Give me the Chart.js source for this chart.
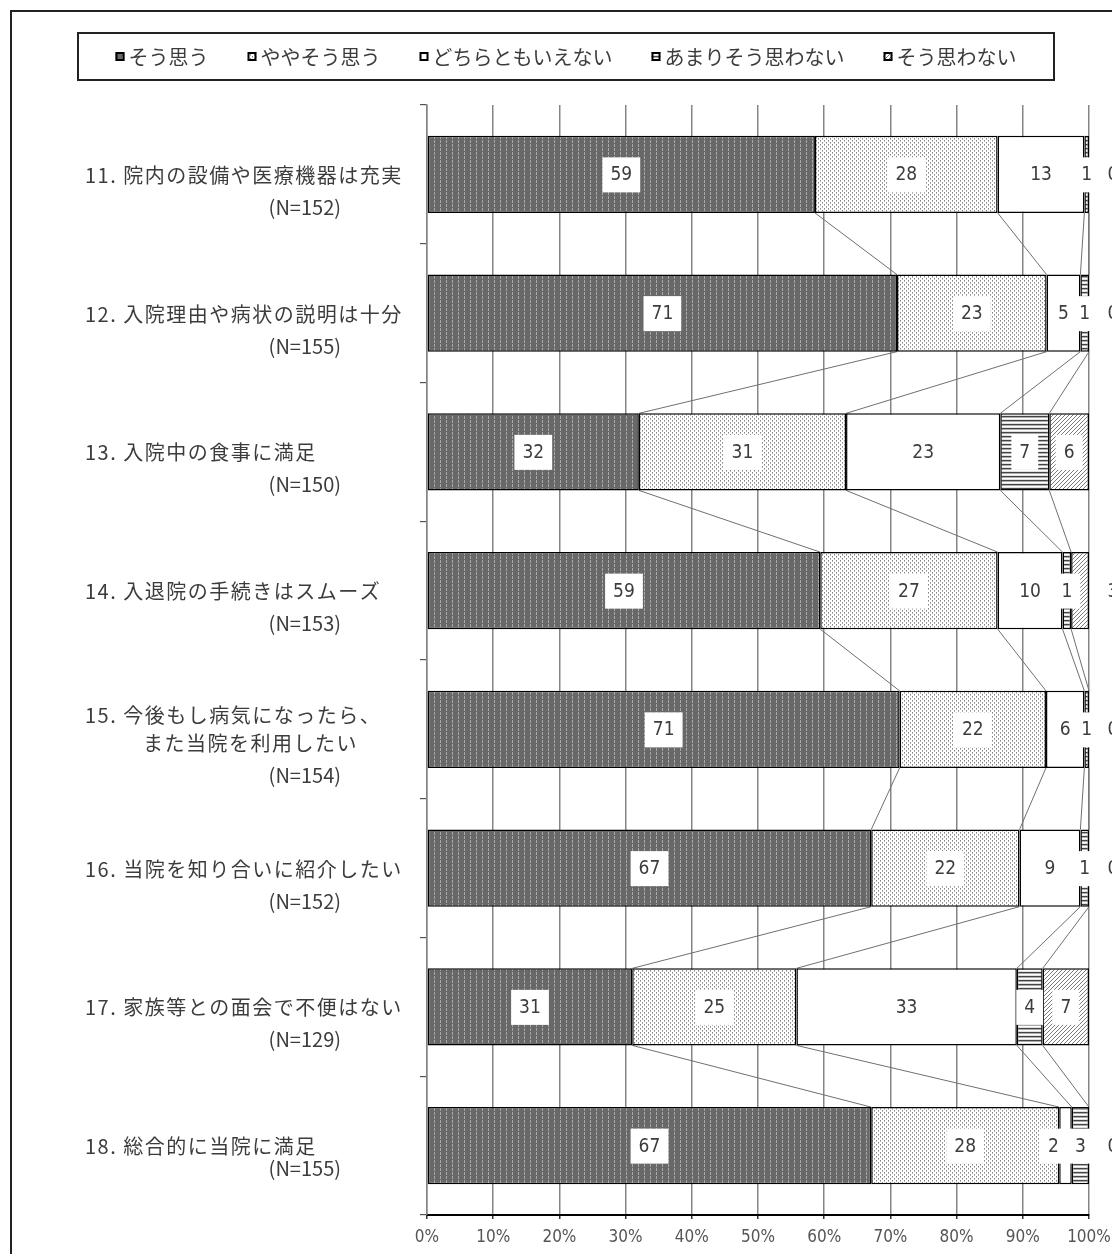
<!DOCTYPE html>
<html lang="ja">
<head>
<meta charset="utf-8">
<title>入院患者アンケート</title>
<script src="https://cdn.jsdelivr.net/npm/chart.js@4.4.1/dist/chart.umd.min.js"></script>
<style>
  html, body { margin: 0; padding: 0; background: #fff; }
  canvas { display: block; }
</style>
</head>
<body>
<canvas id="chart" width="1112" height="1254"></canvas>
<script>
// 設問ラベル（最後の要素は回答数）
const categories = [
  ['11. 院内の設備や医療機器は充実', '(N=152)'],
  ['12. 入院理由や病状の説明は十分', '(N=155)'],
  ['13. 入院中の食事に満足', '(N=150)'],
  ['14. 入退院の手続きはスムーズ', '(N=153)'],
  ['15. 今後もし病気になったら、', 'また当院を利用したい', '(N=154)'],
  ['16. 当院を知り合いに紹介したい', '(N=152)'],
  ['17. 家族等との面会で不便はない', '(N=129)'],
  ['18. 総合的に当院に満足', '(N=155)'],
];
const seriesNames = ['そう思う', 'ややそう思う', 'どちらともいえない', 'あまりそう思わない', 'そう思わない'];

// 割合（%）
const souOmou       = [58.6, 71.0, 32.0, 59.4, 71.4, 67.1, 31.0, 67.1];
const yayaSouOmou   = [27.6, 22.6, 31.3, 26.8, 22.1, 22.4, 24.8, 28.4];
const dochiraTomo   = [13.1,  5.1, 23.3,  9.8,  5.8,  9.2, 33.3,  1.9];
const amariOmowanai = [ 0.7,  1.3,  7.4,  1.3,  0.7,  1.3,  3.9,  2.6];
const souOmowanai   = [ 0.0,  0.0,  6.0,  2.7,  0.0,  0.0,  7.0,  0.0];

const xTickLabels = ['0%', '10%', '20%', '30%', '40%', '50%', '60%', '70%', '80%', '90%', '100%'];

const jpFont = "'Noto Sans CJK JP', sans-serif";
const numFont = "'Liberation Sans Narrow', 'DejaVu Sans Condensed', 'Noto Sans CJK JP', sans-serif";
const textColor = '#3c3c3c';

function makePattern(w, h, paint) {
  const c = document.createElement('canvas');
  c.width = w; c.height = h;
  const g = c.getContext('2d');
  paint(g);
  return document.getElementById('chart').getContext('2d').createPattern(c, 'repeat');
}

const fills = [
  makePattern(6, 4, (g) => {
    g.fillStyle = '#686868'; g.fillRect(0, 0, 6, 4);
    g.fillStyle = '#a8a8a8'; g.fillRect(2, 0, 1, 3);
  }),
  makePattern(4, 4, (g) => {
    g.fillStyle = '#fff'; g.fillRect(0, 0, 4, 4);
    g.fillStyle = '#858585'; g.fillRect(0, 0, 1, 1); g.fillRect(2, 2, 1, 1);
    g.fillStyle = '#b8b8b8'; g.fillRect(0, 1, 1, 1); g.fillRect(2, 3, 1, 1);
  }),
  '#ffffff',
  makePattern(4, 4, (g) => {
    g.fillStyle = '#fff'; g.fillRect(0, 0, 4, 4);
    g.fillStyle = '#444'; g.fillRect(0, 0, 4, 1);
    g.fillStyle = '#aaa'; g.fillRect(0, 1, 4, 1);
    g.fillStyle = '#e0e0e0'; g.fillRect(0, 3, 4, 1);
  }),
  makePattern(4, 4, (g) => {
    g.fillStyle = '#fff'; g.fillRect(0, 0, 4, 4);
    g.fillStyle = '#7a7a7a';
    for (let i = 0; i < 4; i++) g.fillRect(3 - i, i, 1, 1);
  }),
];

const seriesData = [souOmou, yayaSouOmou, dochiraTomo, amariOmowanai, souOmowanai];

// 枠と凡例
const frame = {
  id: 'frame',
  beforeDraw(chart) {
    const ctx = chart.ctx;
    ctx.save();
    ctx.fillStyle = '#fff';
    ctx.fillRect(0, 0, chart.width, chart.height);
    ctx.strokeStyle = '#222';
    ctx.lineWidth = 2;
    ctx.beginPath();
    ctx.moveTo(11, chart.height + 5); ctx.lineTo(11, 11); ctx.lineTo(chart.width + 5, 11);
    ctx.stroke();
    ctx.strokeRect(78, 33, 976, 47);
    ctx.restore();
  },
  afterDraw(chart) {
    const ctx = chart.ctx;
    ctx.save();
    ctx.font = '20px ' + jpFont;
    ctx.textBaseline = 'middle';
    ctx.textAlign = 'left';
    const gap = 39, mark = 13;
    const widths = seriesNames.map((s) => ctx.measureText(s).width);
    const total = widths.reduce((a, b) => a + b + mark, 0) + gap * (seriesNames.length - 1);
    let x = 566 - total / 2;
    seriesNames.forEach((s, i) => {
      ctx.fillStyle = fills[i];
      ctx.fillRect(x, 52, 9, 9);
      ctx.strokeStyle = '#000';
      ctx.lineWidth = 2;
      ctx.strokeRect(x + 1, 53, 7, 7);
      ctx.fillStyle = textColor;
      ctx.fillText(s, x + mark, 57);
      x += mark + widths[i] + gap;
    });
    ctx.restore();
  },
};

// 系列線
const seriesLines = {
  id: 'seriesLines',
  beforeDatasetsDraw(chart) {
    const ctx = chart.ctx;
    ctx.save();
    ctx.strokeStyle = '#707070';
    ctx.lineWidth = 1;
    for (let k = 0; k < chart.data.datasets.length - 1; k++) {
      const bars = chart.getDatasetMeta(k).data;
      for (let i = 0; i < bars.length - 1; i++) {
        const a = bars[i].getProps(['x', 'y', 'height'], true);
        const b = bars[i + 1].getProps(['x', 'y', 'height'], true);
        ctx.beginPath();
        ctx.moveTo(a.x, a.y + a.height / 2);
        ctx.lineTo(b.x, b.y - b.height / 2);
        ctx.stroke();
      }
    }
    ctx.restore();
  },
};

// データラベル（白い箱付き）
const valueLabels = {
  id: 'valueLabels',
  afterDatasetsDraw(chart) {
    const ctx = chart.ctx;
    const area = chart.chartArea;
    const sets = chart.data.datasets;
    const last = sets.length - 1;
    ctx.save();
    ctx.font = '19px ' + numFont;
    ctx.textAlign = 'center';
    ctx.textBaseline = 'middle';
    const items = [];
    chart.data.labels.forEach((_, i) => {
      const row = sets.map((ds, di) => {
        const p = chart.getDatasetMeta(di).data[i].getProps(['x', 'y', 'base'], true);
        let cx = (p.x + p.base) / 2;
        if (di === last && Math.abs(p.x - p.base) < 20) cx = area.right + 24;
        const text = String(Math.round(ds.data[i]));
        return { cx, cy: p.y, text, w: ctx.measureText(text).width };
      });
      // 近すぎるラベルは左へずらす
      for (let k = row.length - 2; k >= 0; k--) {
        if (row[k + 1].cx - row[k].cx < 18) row[k].cx = row[k + 1].cx - 27;
      }
      items.push(...row);
    });
    ctx.fillStyle = '#fff';
    items.forEach((it) => ctx.fillRect(it.cx - it.w / 2 - 8, it.cy - 17, it.w + 16, 35));
    ctx.fillStyle = textColor;
    items.forEach((it) => ctx.fillText(it.text, it.cx, it.cy + 1));
    ctx.restore();
  },
};

// 設問ラベル
const categoryLabels = {
  id: 'categoryLabels',
  afterDraw(chart) {
    const ctx = chart.ctx;
    const y = chart.scales.y;
    ctx.save();
    ctx.font = '20px ' + jpFont;
    ctx.letterSpacing = '1.5px';
    ctx.fillStyle = textColor;
    ctx.textBaseline = 'middle';
    categories.forEach((lines, i) => {
      const cy = y.getPixelForValue(i);
      const titles = lines.slice(0, -1);
      const top = cy + 1 - (titles.length - 1) * 14.5;
      ctx.textAlign = 'left';
      titles.forEach((t, j) => ctx.fillText(t, j === 0 ? 85 : 143, top + j * 28));
      const gap = i === categories.length - 1 ? 22 : 32;
      ctx.letterSpacing = '0px';
      ctx.textAlign = 'right';
      ctx.fillText(lines[lines.length - 1], 341, top + (titles.length - 1) * 28 + gap);
      ctx.letterSpacing = '1.5px';
    });
    ctx.restore();
  },
};

new Chart(document.getElementById('chart'), {
  type: 'bar',
  data: {
    labels: categories.map((c) => c[0]),
    datasets: seriesNames.map((name, i) => ({
      label: name,
      data: seriesData[i],
      backgroundColor: fills[i],
      borderColor: '#000',
      borderWidth: 1.5,
      borderSkipped: false,
      barPercentage: 0.555,
      categoryPercentage: 1,
    })),
  },
  options: {
    indexAxis: 'y',
    responsive: false,
    animation: false,
    devicePixelRatio: 1,
    layout: { padding: { top: 105, right: 23, left: 0, bottom: 0 } },
    plugins: { legend: { display: false }, tooltip: { enabled: false } },
    scales: {
      x: {
        stacked: true,
        min: 0,
        max: 100,
        ticks: {
          stepSize: 10,
          padding: 8,
          color: '#555',
          font: { family: numFont, size: 17 },
          callback: (v, i) => xTickLabels[i],
        },
        grid: { color: '#858585', lineWidth: 1.5, tickLength: 4, tickColor: '#333' },
        border: { display: true, color: '#000', width: 2 },
        afterFit: (s) => { s.height = 39; s.paddingLeft = 0; s.paddingRight = 0; },
      },
      y: {
        stacked: true,
        ticks: { display: false },
        grid: { offset: true, drawOnChartArea: false, drawTicks: true, tickLength: 7, color: '#555', lineWidth: 1.2 },
        border: { display: true, color: '#858585', width: 1.5 },
        afterFit: (s) => { s.width = 427; },
      },
    },
  },
  plugins: [frame, seriesLines, valueLabels, categoryLabels],
});
</script>
</body>
</html>
